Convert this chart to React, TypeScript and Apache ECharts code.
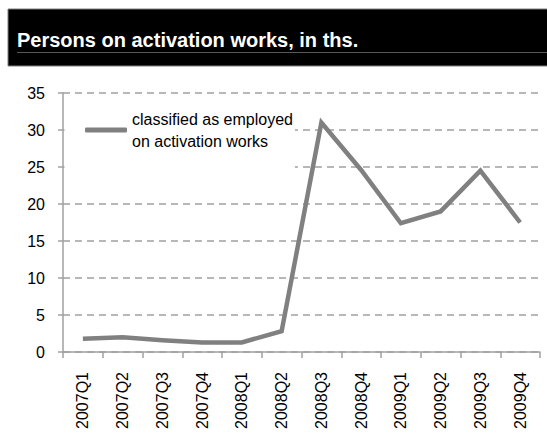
import React, { useEffect, useRef } from "react";
import * as echarts from "echarts";

const categories = [
  "2007Q1", "2007Q2", "2007Q3", "2007Q4",
  "2008Q1", "2008Q2", "2008Q3", "2008Q4",
  "2009Q1", "2009Q2", "2009Q3", "2009Q4",
];
const employedOnActivation = [1.8, 2.0, 1.6, 1.3, 1.3, 2.8, 31.0, 24.6, 17.4, 19.0, 24.5, 17.5];
const seriesName = "classified as employed\non activation works";
const titleText = "Persons on activation works, in ths.";

const FONT = "'Liberation Sans', Arial, Helvetica, sans-serif";

export default function App() {
  const ref = useRef<HTMLDivElement>(null);
  useEffect(() => {
    if (!ref.current) return;
    const chart = echarts.init(ref.current, null, { renderer: "svg" });
    chart.setOption({
      animation: false,
      backgroundColor: "#ffffff",
      textStyle: { fontFamily: FONT },
      graphic: [
        {
          type: "rect",
          shape: { x: 8, y: 9, width: 560, height: 57 },
          style: { fill: "#000000", stroke: "#7f7f7f", lineWidth: 1 },
          z: 0,
        },
        {
          type: "line",
          shape: { x1: 17, y1: 52.5, x2: 547, y2: 52.5 },
          style: { stroke: "#595959", lineWidth: 1 },
          z: 1,
        },
        {
          type: "text",
          x: 17,
          y: 40,
          style: {
            text: titleText,
            fill: "#ffffff",
            font: `bold 20px ${FONT}`,
            verticalAlign: "middle",
            align: "left",
          },
          z: 2,
        },
      ],
      legend: {
        show: true,
        left: 64.5,
        top: 95,
        padding: [2, 2, 8, 20.5],
        backgroundColor: "#ffffff",
        icon: "roundRect",
        itemWidth: 42,
        itemHeight: 5,
        itemStyle: { color: "#808080" },
        textStyle: {
          fontFamily: FONT,
          fontSize: 16,
          color: "#000000",
          lineHeight: 22,
          padding: [22, 0, 0, 0],
        },
        data: [seriesName],
        z: 5,
      },
      grid: { left: 63, right: 7, top: 93, bottom: 93, containLabel: false },
      xAxis: {
        type: "category",
        data: categories,
        boundaryGap: true,
        axisLine: { show: true, lineStyle: { color: "#a0a0a0", width: 1.5 } },
        axisTick: { show: true, length: 6, lineStyle: { color: "#a0a0a0", width: 1.5 } },
        axisLabel: {
          rotate: 90,
          margin: 20,
          fontSize: 16,
          color: "#000000",
          fontFamily: FONT,
        },
        splitLine: { show: false },
      },
      yAxis: {
        type: "value",
        min: 0,
        max: 35,
        interval: 5,
        axisLine: { show: true, lineStyle: { color: "#a0a0a0", width: 1.5 } },
        axisTick: { show: true, length: 5, lineStyle: { color: "#a0a0a0", width: 1.5 } },
        axisLabel: { margin: 18, fontSize: 16, color: "#000000", fontFamily: FONT },
        splitLine: {
          show: true,
          lineStyle: { color: "#a0a0a0", type: [7, 5], width: 1.5 },
        },
      },
      series: [
        {
          name: seriesName,
          type: "line",
          data: employedOnActivation,
          symbol: "none",
          lineStyle: { color: "#808080", width: 4.5, join: "miter" },
          itemStyle: { color: "#808080" },
          z: 3,
        },
      ],
    });
    return () => chart.dispose();
  }, []);
  return (
    <div
      ref={ref}
      style={{ position: "absolute", left: 0, top: 0, width: 547, height: 445 }}
    />
  );
}
